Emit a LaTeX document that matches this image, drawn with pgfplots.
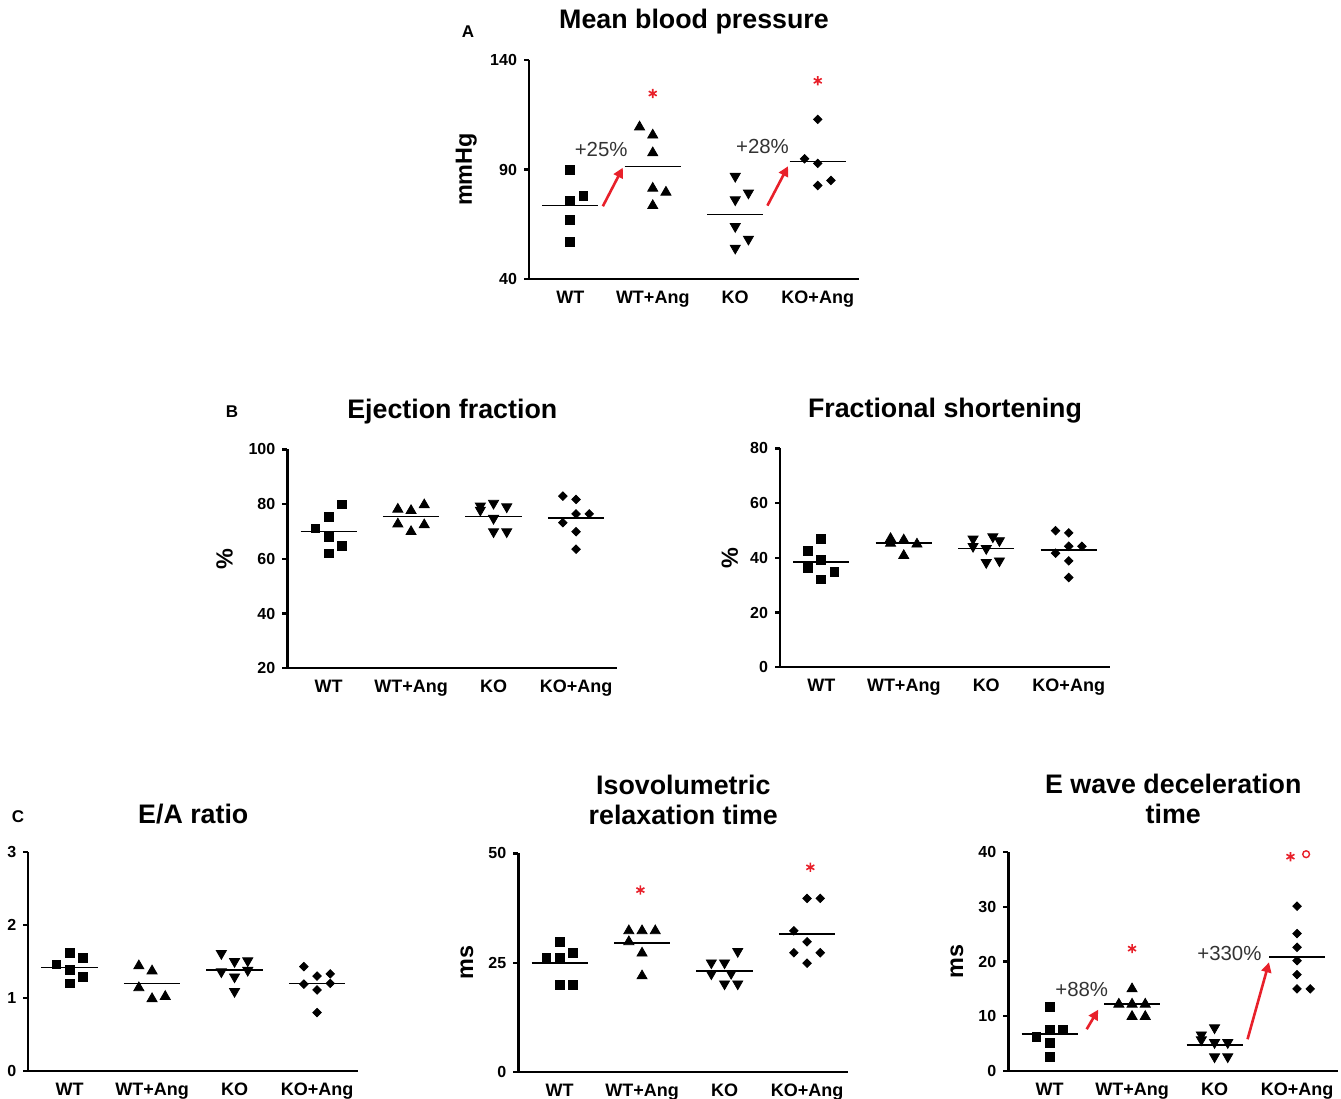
\documentclass[border=0pt]{standalone}
\usepackage{fontspec}
\setmainfont{Liberation Sans}
\usepackage{pgfplots}
\pgfplotsset{compat=1.18}
\usetikzlibrary{arrows.meta}
\definecolor{sigred}{HTML}{E8202A}
\definecolor{annot}{HTML}{333333}

\pgfplotsset{
  dot panel/.style={
    scale only axis, width=165pt, height=109.5pt,
    anchor=south west,
    axis lines=left, axis line style={-, line width=1.2pt},
    xmin=0.5, xmax=4.5,
    xtick={1,2,3,4}, xticklabels={WT,WT+Ang,KO,KO+Ang},
    x tick style={draw=none},
    tick align=outside, major tick length=2.5pt,
    y tick style={line width=1.2pt, black},
    yticklabel style={font=\bfseries\fontsize{8}{9}\selectfont},
    xticklabel style={font=\bfseries\fontsize{9}{10}\selectfont},
    /pgf/number format/assume math mode=true,
    ylabel style={font=\bfseries\fontsize{11.7}{13}\selectfont,
      at={(axis description cs:-0.19,0.5)}, anchor=center},
    title style={font=\bfseries\fontsize{13.4}{15}\selectfont,
      at={(axis description cs:0.5,1)}, anchor=center, yshift=13pt, align=center},
    clip=false,
  },
  wt/.style={only marks, mark=square*, mark size=2.2pt, black},
  wta/.style={only marks, mark=triangle*, mark size=2.9pt, black},
  ko/.style={only marks, mark=triangle*, mark size=2.9pt, black, mark options={rotate=180}},
  koa/.style={only marks, mark=square*, mark size=1.5pt, black, mark options={rotate=45}},
  mean/.style={black, line width=0.8pt, no marks},
  sig/.style={only marks, mark=asterisk, mark size=2.3pt, sigred, line width=0.8pt},
}
\tikzset{
  pct/.style={font=\fontsize{10.2}{12}\selectfont, text=annot},
  uparrow/.style={sigred, line width=1.3pt, -{Triangle[length=5pt,width=5pt]}},
}

\begin{document}
\begin{tikzpicture}
\path[use as bounding box] (0,0) rectangle (670.5pt,549.5pt);

\node[font=\bfseries\fontsize{8.5}{10}\selectfont] at (234pt,533.5pt) {A};
\node[font=\bfseries\fontsize{8.5}{10}\selectfont] at (116pt,343.5pt) {B};
\node[font=\bfseries\fontsize{8.5}{10}\selectfont] at (9pt,141pt) {C};

% A: mean blood pressure
\begin{axis}[dot panel, at={(264.5pt,410pt)},
  ymin=40, ymax=140, ytick={40,90,140},
  title={Mean blood pressure}, ylabel={mmHg}]
\addplot[wt] coordinates {(1,89.7) (1,75.8) (1.16,77.9) (1,67.1) (1,56.8)};
\addplot[wta] coordinates {(1.84,109.4) (2,105.7) (2,97.6) (2,81.4) (2.16,79.6) (2,73.5)};
\addplot[ko] coordinates {(3,86.9) (3.16,79.3) (3,76.2) (3,64.0) (3.16,58.2) (3,54.1)};
\addplot[koa] coordinates {(4,112.9) (3.84,94.9) (4,92.8) (4,82.7) (4.16,85.0)};
\addplot[mean] coordinates {(0.66,73.5) (1.34,73.5)};
\addplot[mean] coordinates {(1.66,91.4) (2.34,91.4)};
\addplot[mean] coordinates {(2.66,69.5) (3.34,69.5)};
\addplot[mean] coordinates {(3.66,93.6) (4.34,93.6)};
\addplot[sig] coordinates {(2,124.7) (4,130.5)};
\node[pct] at (axis cs:1.375,99.2) {+25\%};
\node[pct] at (axis cs:3.33,100.7) {+28\%};
\draw[uparrow] (axis cs:1.395,73.2) -- (axis cs:1.637,90.8);
\draw[uparrow] (axis cs:3.39,73.5) -- (axis cs:3.64,91.5);
\end{axis}

% B: ejection fraction
\begin{axis}[dot panel, at={(143.65pt,215.35pt)},
  ymin=20, ymax=100, ytick={20,40,60,80,100},
  title={Ejection fraction}, ylabel={\%}]
\addplot[wt] coordinates {(1.16,79.9) (1,75.2) (0.84,71.1) (1,68.1) (1.16,64.7) (1,62.0)};
\addplot[wta] coordinates {(1.84,78.1) (2,77.6) (2.16,79.7) (1.84,72.7) (2.16,72.4) (2,69.9)};
\addplot[ko] coordinates {(2.84,79.3) (2.84,77.8) (3,80.3) (3.16,79.0) (3,74.8) (3,69.9) (3.16,69.9)};
\addplot[koa] coordinates {(3.84,82.9) (4,81.7) (4,76.4) (4.16,76.4) (3.84,73.2) (4,69.9) (4,63.5)};
\addplot[mean] coordinates {(0.66,69.9) (1.34,69.9)};
\addplot[mean] coordinates {(1.66,75.4) (2.34,75.4)};
\addplot[mean] coordinates {(2.66,75.5) (3.34,75.5)};
\addplot[mean] coordinates {(3.66,75.0) (4.34,75.0)};
\end{axis}

% B: fractional shortening
\begin{axis}[dot panel, at={(390pt,215.85pt)},
  ymin=0, ymax=80, ytick={0,20,40,60,80},
  title={Fractional shortening}, ylabel={\%},
  ylabel style={at={(axis description cs:-0.152,0.5)}}]
\addplot[wt] coordinates {(1,46.9) (0.84,42.6) (1,39.3) (0.84,36.4) (1.16,34.8) (1,32.1)};
\addplot[wta] coordinates {(1.84,47.0) (1.84,45.3) (2,46.5) (2.16,45.0) (2,40.8)};
\addplot[ko] coordinates {(2.84,46.9) (3.08,47.7) (3.16,46.3) (2.84,44.2) (3,43.4) (3,38.3) (3.16,38.9)};
\addplot[koa] coordinates {(3.84,49.9) (4,49.1) (3.84,41.7) (4,44.2) (4.16,44.2) (4,38.9) (4,32.8)};
\addplot[mean] coordinates {(0.66,38.5) (1.34,38.5)};
\addplot[mean] coordinates {(1.66,45.3) (2.34,45.3)};
\addplot[mean] coordinates {(2.66,43.4) (3.34,43.4)};
\addplot[mean] coordinates {(3.66,42.8) (4.34,42.8)};
\end{axis}

% C: E/A ratio
\begin{axis}[dot panel, at={(14.15pt,14pt)},
  ymin=0, ymax=3, ytick={0,1,2,3},
  title={E/A ratio}]
\addplot[wt] coordinates {(1,1.62) (1.16,1.55) (0.84,1.46) (1,1.39) (1.16,1.29) (1,1.20)};
\addplot[wta] coordinates {(1.84,1.44) (2,1.37) (1.84,1.14) (2,0.99) (2.16,1.02)};
\addplot[ko] coordinates {(2.84,1.61) (3,1.50) (3.16,1.51) (2.84,1.36) (3.16,1.38) (3,1.29) (3,1.09)};
\addplot[koa] coordinates {(3.84,1.43) (4,1.30) (4.16,1.33) (3.84,1.19) (4.16,1.20) (4,1.11) (4,0.80)};
\addplot[mean] coordinates {(0.66,1.42) (1.34,1.42)};
\addplot[mean] coordinates {(1.66,1.20) (2.34,1.20)};
\addplot[mean] coordinates {(2.66,1.38) (3.34,1.38)};
\addplot[mean] coordinates {(3.66,1.20) (4.34,1.20)};
\end{axis}

% C: isovolumetric relaxation time
\begin{axis}[dot panel, at={(259.15pt,13.35pt)},
  ymin=0, ymax=50, ytick={0,25,50},
  title={Isovolumetric\\relaxation time}, ylabel={ms},
  title style={yshift=7.7pt},
  ylabel style={at={(axis description cs:-0.156,0.5)}}]
\addplot[wt] coordinates {(1,29.8) (0.84,26.2) (1,26.2) (1.16,27.3) (1,19.9) (1.16,19.9)};
\addplot[wta] coordinates {(1.84,32.3) (2,32.3) (2.16,32.3) (1.84,29.8) (2,27.2) (2,22.0)};
\addplot[ko] coordinates {(2.84,25.0) (3,25.0) (3.16,27.6) (2.84,22.5) (3.08,22.6) (3,20.2) (3.16,20.2)};
\addplot[koa] coordinates {(4,39.7) (4.16,39.7) (3.84,32.3) (4,29.8) (3.84,27.3) (4.16,27.3) (4,24.9)};
\addplot[mean] coordinates {(0.66,24.9) (1.34,24.9)};
\addplot[mean] coordinates {(1.66,29.5) (2.34,29.5)};
\addplot[mean] coordinates {(2.66,23.1) (3.34,23.1)};
\addplot[mean] coordinates {(3.66,31.6) (4.34,31.6)};
\addplot[sig] coordinates {(1.98,41.6) (4.04,46.8)};
\end{axis}

% C: E wave deceleration time
\begin{axis}[dot panel, at={(504.15pt,14pt)},
  ymin=0, ymax=40, ytick={0,10,20,30,40},
  title={E wave deceleration\\time}, ylabel={ms},
  title style={yshift=7.7pt},
  ylabel style={at={(axis description cs:-0.156,0.5)}}]
\addplot[wt] coordinates {(1,11.7) (1,7.6) (1.16,7.6) (0.84,6.3) (1,5.1) (1,2.6)};
\addplot[wta] coordinates {(2,15.0) (1.84,12.2) (2,12.2) (2.16,12.2) (2,9.95) (2.16,9.95)};
\addplot[ko] coordinates {(3,7.9) (2.84,6.6) (2.84,5.7) (3,5.2) (3.16,5.2) (3,2.6) (3.16,2.6)};
\addplot[koa] coordinates {(4,30.1) (4,25.1) (4,22.6) (4,20.15) (4,17.6) (4,15.0) (4.16,15.0)};
\addplot[mean] coordinates {(0.66,6.8) (1.34,6.8)};
\addplot[mean] coordinates {(1.66,12.2) (2.34,12.2)};
\addplot[mean] coordinates {(2.66,4.8) (3.34,4.8)};
\addplot[mean] coordinates {(3.66,20.8) (4.34,20.8)};
\addplot[sig] coordinates {(2,22.35) (3.92,39.15)};
\addplot[only marks, mark=o, mark size=1.7pt, sigred, line width=0.7pt] coordinates {(4.11,39.6)};
\node[pct] at (axis cs:1.39,14.96) {+88\%};
\node[pct] at (axis cs:3.18,21.4) {+330\%};
\draw[uparrow] (axis cs:1.45,7.63) -- (axis cs:1.59,11.2);
\draw[uparrow] (axis cs:3.40,5.8) -- (axis cs:3.66,19.85);
\end{axis}
\end{tikzpicture}
\end{document}
